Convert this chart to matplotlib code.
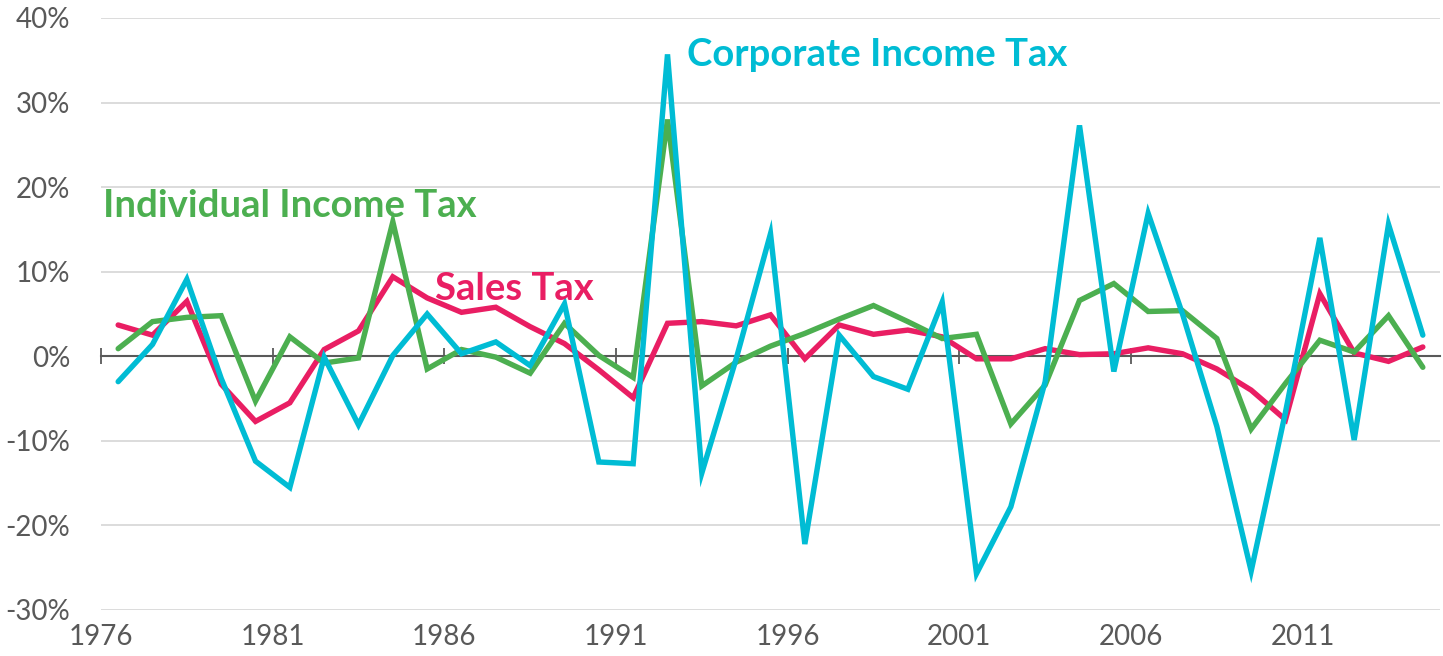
import matplotlib
matplotlib.use("Agg")
import matplotlib.pyplot as plt
import numpy as np
from matplotlib.ticker import FixedLocator, FuncFormatter

years = list(range(1976, 2015))

sales_tax = [3.7, 2.5, 6.5, -3.3, -7.7, -5.5, 0.8, 3.0, 9.4, 6.9,
             5.2, 5.8, 3.5, 1.5, -1.6, -4.9, 3.9, 4.1, 3.6, 4.9,
             -0.3, 3.7, 2.6, 3.1, 2.3, -0.3, -0.3, 0.9, 0.2, 0.3,
             1.0, 0.3, -1.5, -4.0, -7.5, 7.4, 0.4, -0.6, 1.1]

individual_income_tax = [0.9, 4.1, 4.6, 4.8, -5.3, 2.3, -0.8, -0.2, 15.9, -1.5,
                         0.8, -0.1, -2.0, 3.9, 0.1, -2.5, 28.0, -3.5, -0.7, 1.2,
                         2.7, 4.4, 6.0, 4.1, 2.1, 2.6, -8.0, -3.4, 6.6, 8.6,
                         5.3, 5.4, 2.1, -8.6, -3.2, 1.9, 0.5, 4.8, -1.3]

corporate_income_tax = [-3.0, 1.4, 9.1, -2.6, -12.4, -15.5, -0.1, -8.1, 0.1, 5.0,
                        0.3, 1.7, -1.1, 6.2, -12.5, -12.7, 35.7, -13.8, -0.3, 14.5,
                        -22.2, 2.5, -2.4, -3.9, 6.4, -25.7, -17.8, -3.0, 27.3, -1.8,
                        16.9, 5.0, -8.3, -25.4, -6.6, 14.0, -9.9, 15.6, 2.5]

tick_years = [1976, 1981, 1986, 1991, 1996, 2001, 2006, 2011]
y_ticks = [-30, -20, -10, 0, 10, 20, 30, 40]

series_labels = ["Sales Tax", "Individual Income Tax", "Corporate Income Tax"]

RED = "#E91E63"
GREEN = "#4CAF50"
CYAN = "#00BCD4"
GRID = "#D9D9D9"
TEXT = "#595959"

plt.rcParams["font.family"] = ["Lato", "DejaVu Sans"]

W, H = 1443, 656
fig = plt.figure(figsize=(W / 100, H / 100), dpi=100)
ax = fig.add_axes([101 / W, 46 / H, (1440 - 101) / W, (610 - 18) / H])

x = np.array(years) + 0.5

lw = 3.9
ax.plot(x, sales_tax, color=RED, lw=lw, solid_capstyle="round",
        solid_joinstyle="miter", zorder=3)
ax.plot(x, individual_income_tax, color=GREEN, lw=lw, solid_capstyle="round",
        solid_joinstyle="miter", zorder=4)
ax.plot(x, corporate_income_tax, color=CYAN, lw=lw, solid_capstyle="round",
        solid_joinstyle="miter", zorder=5)

ax.set_xlim(1976, 2015)
ax.set_ylim(-30, 40)

# grid
ax.yaxis.set_major_locator(FixedLocator(y_ticks))
ax.yaxis.set_major_formatter(FuncFormatter(lambda v, p: f"{v:.0f}%"))
for v in y_ticks:
    if v != 0:
        ax.axhline(v, color=GRID, lw=1.3, zorder=1)

for s in ["top", "right", "left"]:
    ax.spines[s].set_visible(False)
ax.spines["bottom"].set_position(("data", 0))
ax.spines["bottom"].set_color(TEXT)
ax.spines["bottom"].set_linewidth(1.5)
ax.spines["bottom"].set_zorder(2)

ax.xaxis.set_major_locator(FixedLocator(tick_years))
ax.tick_params(axis="x", direction="inout", length=11, width=1.3, color=TEXT,
               labelbottom=False)
ax.tick_params(axis="y", length=0, pad=22, labelsize=20, labelcolor=TEXT)

sec = ax.secondary_xaxis("bottom")
sec.xaxis.set_major_locator(FixedLocator(tick_years))
sec.xaxis.set_major_formatter(FuncFormatter(lambda v, p: f"{int(v)}"))
sec.spines["bottom"].set_visible(False)
sec.tick_params(axis="x", length=0, pad=10, labelsize=20, labelcolor=TEXT)

ax.text(1993.06, 35.6, series_labels[2], color=CYAN, fontsize=27.5,
        fontweight="bold", ha="left", va="center", zorder=6)
ax.text(1976.06, 17.8, series_labels[1], color=GREEN, fontsize=27.5,
        fontweight="bold", ha="left", va="center", zorder=6)
ax.text(1985.74, 8.0, series_labels[0], color=RED, fontsize=27.5,
        fontweight="bold", ha="left", va="center", zorder=6)

fig.savefig("out.png", dpi=100)
